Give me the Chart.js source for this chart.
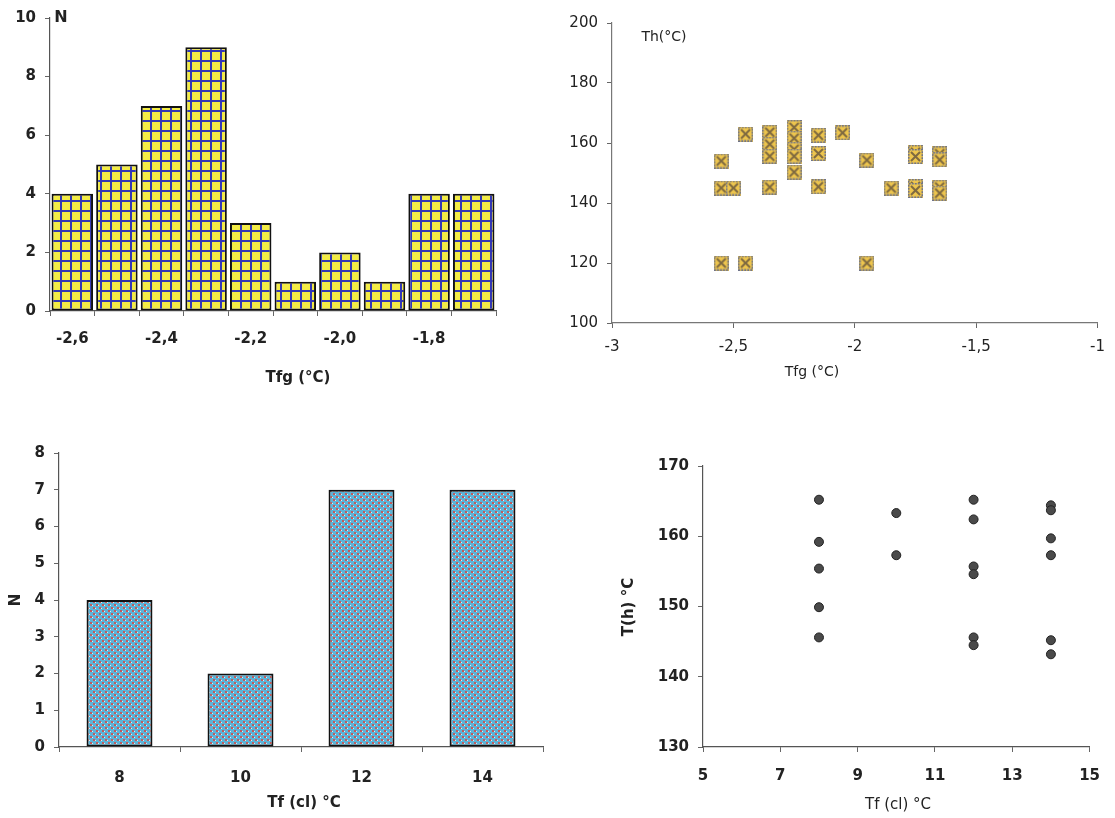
<!DOCTYPE html>
<html>
<head>
<meta charset="utf-8">
<script src="https://cdn.jsdelivr.net/npm/chart.js@4"></script>
<style>
  body { margin: 0; background: #fff; width: 1115px; height: 818px; position: relative; overflow: hidden; }
  canvas { position: absolute; }
</style>
</head>
<body>
<canvas id="histChart" width="540" height="400" style="left:0;top:0"></canvas>
<canvas id="thChart" width="555" height="400" style="left:560px;top:0"></canvas>
<canvas id="clChart" width="560" height="418" style="left:0;top:400px"></canvas>
<canvas id="thClChart" width="555" height="418" style="left:560px;top:400px"></canvas>
<script>
// histogram of Tfg
const histLabels = ["-2,6","-2,5","-2,4","-2,3","-2,2","-2,1","-2,0","-1,9","-1,8","-1,7"];
const histShown = ["-2,6","-2,4","-2,2","-2,0","-1,8"];
const histCounts = [4,5,7,9,3,1,2,1,4,4];

// Th vs Tfg
const tfgX = [-2.55,-2.55,-2.55, -2.5, -2.45,-2.45, -2.35,-2.35,-2.35,-2.35,
              -2.25,-2.25,-2.25,-2.25,-2.25, -2.15,-2.15,-2.15, -2.05, -1.95,-1.95,
              -1.85, -1.75,-1.75,-1.75,-1.75, -1.65,-1.65,-1.65,-1.65];
const thY  = [154,145,120, 145, 163,120, 163.6,159.6,155.6,145.3,
              165.2,161.6,157.9,155.6,150.3, 162.6,156.5,145.4, 163.4, 154.3,120,
              145, 156.9,155.5,145.5,144.2, 156.4,154.4,145.3,143.3];
const thTicksX = [-3,-2.5,-2,-1.5,-1];

// salinity classes
const clCats = ["8","10","12","14"];
const clCounts = [4,2,7,7];

// Th vs Tf(cl)
const tfClX = [8,8,8,8,8, 10,10, 12,12,12,12,12,12, 14,14,14,14,14,14];
const thClY = [165.2,159.2,155.4,149.9,145.6, 163.3,157.3,
               165.2,162.4,155.7,154.6,145.6,144.5,
               164.4,163.7,159.7,157.3,145.2,143.2];

Chart.defaults.font.family = "DejaVu Sans";
Chart.defaults.color = "#222";

function comma(v) { return String(v).replace(".", ","); }

function notes(list) {
  return {
    id: "notes",
    afterDraw(chart) {
      const c = chart.ctx;
      list.forEach(n => {
        c.save();
        c.font = n.font;
        c.fillStyle = "#222";
        c.textAlign = n.align || "center";
        c.textBaseline = "middle";
        c.translate(n.x, n.y);
        if (n.rot) c.rotate(n.rot);
        c.fillText(n.text, 0, 0);
        c.restore();
      });
    }
  };
}

function gridPattern() {
  const t = document.createElement("canvas");
  t.width = 10; t.height = 10;
  const g = t.getContext("2d");
  g.fillStyle = "#f3ec45";
  g.fillRect(0, 0, 10, 10);
  g.fillStyle = "#3438b4";
  g.fillRect(0, 0, 2, 10);
  g.fillRect(0, 0, 10, 2);
  return g.createPattern(t, "repeat");
}

function dotPattern() {
  const t = document.createElement("canvas");
  t.width = 6; t.height = 6;
  const g = t.getContext("2d");
  g.fillStyle = "#5cb4d8";
  g.fillRect(0, 0, 6, 6);
  g.fillStyle = "#c25a5a";
  g.fillRect(0, 0, 2, 2);
  g.fillRect(3, 3, 2, 2);
  g.fillStyle = "#d8eef4";
  g.fillRect(2, 1, 1, 1);
  g.fillRect(5, 4, 1, 1);
  return g.createPattern(t, "repeat");
}

function squareMarker() {
  const t = document.createElement("canvas");
  t.width = 15; t.height = 15;
  const g = t.getContext("2d");
  g.fillStyle = "#eec64e";
  g.fillRect(0, 0, 15, 15);
  g.strokeStyle = "#6f7388";
  g.lineWidth = 1.5;
  g.setLineDash([2, 1]);
  g.strokeRect(0.75, 0.75, 13.5, 13.5);
  g.setLineDash([]);
  g.strokeStyle = "rgba(90,75,60,0.75)";
  g.lineWidth = 2;
  g.beginPath();
  g.moveTo(3, 3); g.lineTo(12, 12);
  g.moveTo(12, 3); g.lineTo(3, 12);
  g.stroke();
  return t;
}

function axisGrid() {
  return { display: true, drawOnChartArea: false, drawTicks: true, tickLength: 5, color: "#666" };
}
function axisBorder() {
  return { display: true, color: "#555", width: 1.2 };
}

const bold15 = { size: 15, weight: "bold" };

// top left: histogram
new Chart(document.getElementById("histChart"), {
  type: "bar",
  data: {
    labels: histLabels,
    datasets: [{
      data: histCounts,
      backgroundColor: gridPattern(),
      borderColor: "#111",
      borderWidth: 2,
      borderSkipped: false,
      barPercentage: 0.93,
      categoryPercentage: 1
    }]
  },
  options: {
    responsive: false,
    animation: false,
    layout: { padding: { top: 17, right: 44, left: 0, bottom: 0 } },
    plugins: { legend: { display: false }, tooltip: { enabled: false } },
    scales: {
      x: {
        grid: Object.assign(axisGrid(), { offset: true }),
        border: axisBorder(),
        ticks: {
          font: bold15, padding: 14, autoSkip: false, maxRotation: 0,
          callback: (v, i) => histShown.includes(histLabels[i]) ? histLabels[i] : ""
        },
        afterFit: s => { s.height = 89; }
      },
      y: {
        min: 0, max: 10,
        grid: axisGrid(),
        border: axisBorder(),
        ticks: { stepSize: 2, font: bold15, padding: 9 },
        afterFit: s => { s.width = 50; }
      }
    }
  },
  plugins: [notes([
    { text: "N", x: 61, y: 18, font: "bold 16px DejaVu Sans" },
    { text: "Tfg (°C)", x: 298, y: 378, font: "bold 15px DejaVu Sans" }
  ])]
});

// top right: Th vs Tfg
const marker = squareMarker();
new Chart(document.getElementById("thChart"), {
  type: "scatter",
  data: {
    datasets: [{
      data: tfgX.map((x, i) => ({ x: x, y: thY[i] })),
      pointStyle: marker,
      pointRadius: 7
    }]
  },
  options: {
    responsive: false,
    animation: false,
    layout: { padding: { top: 23, right: 15, left: 0, bottom: 0 } },
    plugins: { legend: { display: false }, tooltip: { enabled: false } },
    scales: {
      x: {
        min: -3, max: -1,
        afterBuildTicks: s => { s.ticks = thTicksX.map(v => ({ value: v })); },
        grid: axisGrid(),
        border: Object.assign(axisBorder(), { color: "#777" }),
        ticks: { font: { size: 15 }, padding: 10, callback: v => comma(v) },
        afterFit: s => { s.height = 77; }
      },
      y: {
        min: 100, max: 200,
        grid: axisGrid(),
        border: Object.assign(axisBorder(), { color: "#777" }),
        ticks: { stepSize: 20, font: { size: 15 }, padding: 9 },
        afterFit: s => { s.width = 52; }
      }
    }
  },
  plugins: [notes([
    { text: "Th(°C)", x: 104, y: 37, font: "14px DejaVu Sans" },
    { text: "Tfg (°C)", x: 252, y: 372, font: "14px DejaVu Sans" }
  ])]
});

// bottom left: salinity classes
new Chart(document.getElementById("clChart"), {
  type: "bar",
  data: {
    labels: clCats,
    datasets: [{
      data: clCounts,
      backgroundColor: dotPattern(),
      borderColor: "#111",
      borderWidth: 2,
      borderSkipped: false,
      barPercentage: 0.545,
      categoryPercentage: 1
    }]
  },
  options: {
    responsive: false,
    animation: false,
    layout: { padding: { top: 53, right: 17, left: 0, bottom: 0 } },
    plugins: { legend: { display: false }, tooltip: { enabled: false } },
    scales: {
      x: {
        grid: Object.assign(axisGrid(), { offset: true }),
        border: axisBorder(),
        ticks: { font: bold15, padding: 17 },
        afterFit: s => { s.height = 71; }
      },
      y: {
        min: 0, max: 8,
        grid: axisGrid(),
        border: axisBorder(),
        ticks: { stepSize: 1, font: bold15, padding: 9 },
        afterFit: s => { s.width = 59; }
      }
    }
  },
  plugins: [notes([
    { text: "N", x: 16, y: 200, rot: -Math.PI / 2, font: "bold 15px DejaVu Sans" },
    { text: "Tf (cl) °C", x: 304, y: 403, font: "bold 15px DejaVu Sans" }
  ])]
});

// bottom right: Th vs Tf(cl)
new Chart(document.getElementById("thClChart"), {
  type: "scatter",
  data: {
    datasets: [{
      data: tfClX.map((x, i) => ({ x: x, y: thClY[i] })),
      pointRadius: 4.5,
      backgroundColor: "#4a4a4a",
      borderColor: "#222",
      borderWidth: 1
    }]
  },
  options: {
    responsive: false,
    animation: false,
    layout: { padding: { top: 66, right: 21, left: 0, bottom: 0 } },
    plugins: { legend: { display: false }, tooltip: { enabled: false } },
    scales: {
      x: {
        min: 5, max: 15,
        grid: axisGrid(),
        border: axisBorder(),
        ticks: { stepSize: 2, font: bold15, padding: 15 },
        afterFit: s => { s.height = 71; }
      },
      y: {
        min: 130, max: 170,
        grid: axisGrid(),
        border: axisBorder(),
        ticks: { stepSize: 10, font: bold15, padding: 9 },
        afterFit: s => { s.width = 143; }
      }
    }
  },
  plugins: [notes([
    { text: "T(h) °C", x: 69, y: 207, rot: -Math.PI / 2, font: "bold 15px DejaVu Sans" },
    { text: "Tf (cl) °C", x: 338, y: 405, font: "15px DejaVu Sans" }
  ])]
});
</script>
</body>
</html>
